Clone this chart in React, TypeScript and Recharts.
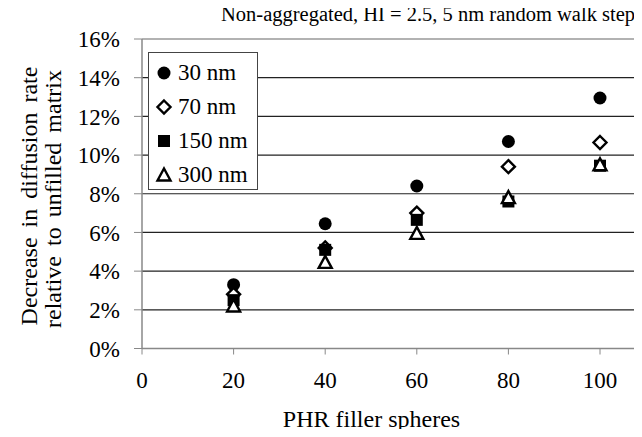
import { ScatterChart, Scatter, XAxis, YAxis, CartesianGrid, ReferenceLine, Label } from 'recharts';

const phr = [20, 40, 60, 80, 100];
const nm30 = [3.3, 6.45, 8.4, 10.7, 12.95];
const nm70 = [2.8, 5.2, 7.0, 9.4, 10.65];
const nm150 = [2.5, 5.1, 6.65, 7.6, 9.45];
const nm300 = [2.2, 4.45, 5.95, 7.8, 9.5];

const xTicks = [0, 20, 40, 60, 80, 100];
const yTicks = [0, 2, 4, 6, 8, 10, 12, 14, 16];

const toPoints = (vals: number[]) => phr.map((x, i) => ({ x, y: vals[i] }));

const FONT = '"Liberation Serif", "Times New Roman", serif';

const Dot = (p: any) => <circle cx={p.cx} cy={p.cy} r={6.5} fill="#000" />;
const Diamond = (p: any) => (
  <path d={`M${p.cx},${p.cy - 6.5} L${p.cx + 6.5},${p.cy} L${p.cx},${p.cy + 6.5} L${p.cx - 6.5},${p.cy} Z`} fill="#fff" stroke="#000" strokeWidth={2.4} />
);
const Square = (p: any) => <rect x={p.cx - 6} y={p.cy - 6} width={12} height={12} fill="#000" />;
const Triangle = (p: any) => (
  <path d={`M${p.cx},${p.cy - 6.5} L${p.cx + 6.5},${p.cy + 5.5} L${p.cx - 6.5},${p.cy + 5.5} Z`} fill="#fff" stroke="#000" strokeWidth={2.4} />
);

const series = [
  { name: '30 nm', data: nm30, shape: Dot },
  { name: '70 nm', data: nm70, shape: Diamond },
  { name: '150 nm', data: nm150, shape: Square },
  { name: '300 nm', data: nm300, shape: Triangle },
];

function LegendBox() {
  return (
    <div style={{ position: 'absolute', left: 148, top: 52, width: 110, height: 138, border: '1px solid #444', background: '#fff', boxSizing: 'border-box', paddingTop: 3 }}>
      {series.map((s) => {
        const Shape = s.shape;
        return (
          <div key={s.name} style={{ display: 'flex', alignItems: 'center', height: 34, fontFamily: FONT, fontSize: 23, color: '#000' }}>
            <svg width={28} height={20} style={{ flex: 'none' }}>
              <Shape cx={15} cy={10} />
            </svg>
            <span style={{ marginLeft: 1 }}>{s.name}</span>
          </div>
        );
      })}
    </div>
  );
}

const YTitle = () => (
  <g fontFamily={FONT} fontSize={24} fill="#000" style={{ wordSpacing: 4 }}>
    <text transform="translate(37,196) rotate(-90)" textAnchor="middle">Decrease in diffusion rate</text>
    <text transform="translate(61,199) rotate(-90)" textAnchor="middle">relative to unfilled matrix</text>
  </g>
);

const XTitle = () => (
  <text x={371.5} y={427} textAnchor="middle" fontFamily={FONT} fontSize={24} fill="#000">PHR filler spheres</text>
);

export default function App() {
  return (
    <div style={{ margin: -8, width: 642, height: 437, overflow: 'hidden', position: 'relative', background: '#fff' }}>
      {/* x runs to 120 but the picture is cropped at ~110, so the chart is wider than the window */}
      <ScatterChart width={700} height={437} margin={{ top: 39, right: 8.4, bottom: 0, left: 0 }}>
        <CartesianGrid horizontal vertical={false} horizontalValues={[2, 4, 6, 8, 10, 12, 14]} stroke="#222" strokeWidth={1.2} />
        <ReferenceLine y={16} stroke="#999" strokeWidth={1.5} />
        <XAxis
          type="number"
          dataKey="x"
          domain={[0, 120]}
          ticks={xTicks}
          height={88.5}
          tickSize={6}
          tickLine={{ stroke: '#888' }}
          axisLine={{ stroke: '#888', strokeWidth: 1.5 }}
          tick={{ fontFamily: FONT, fontSize: 23, fill: '#000' }}
          tickMargin={17}
          interval={0}
        >
          <Label content={XTitle} />
        </XAxis>
        <YAxis
          type="number"
          dataKey="y"
          domain={[0, 16]}
          ticks={yTicks}
          width={142}
          tickSize={8}
          tickLine={{ stroke: '#888' }}
          axisLine={{ stroke: '#888', strokeWidth: 1.5 }}
          tick={{ fontFamily: FONT, fontSize: 23, fill: '#000' }}
          tickFormatter={(v) => `${v}%`}
          tickMargin={14}
          interval={0}
        >
          <Label content={YTitle} />
        </YAxis>
        {series.map((s) => (
          <Scatter key={s.name} name={s.name} data={toPoints(s.data)} shape={s.shape} isAnimationActive={false} />
        ))}
      </ScatterChart>
      <div style={{ position: 'absolute', left: 221, top: 4.3, fontFamily: FONT, fontSize: 20.5, lineHeight: 1, color: '#000', whiteSpace: 'nowrap' }}>
        Non-aggregated, HI = 2.5, 5 nm random walk step
      </div>
      <LegendBox />
    </div>
  );
}
